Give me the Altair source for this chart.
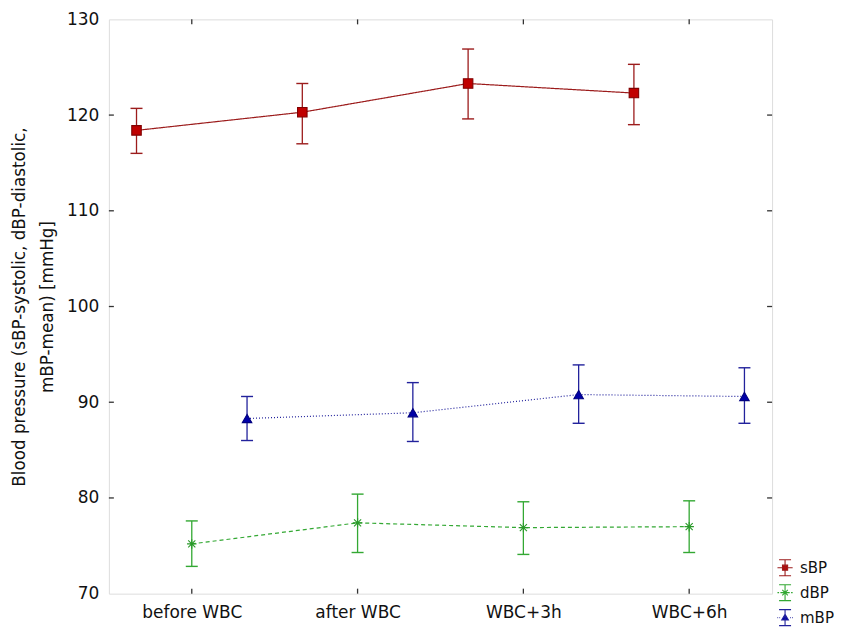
import altair as alt
import pandas as pd

# ---- data ----
timepoints = ["before WBC", "after WBC", "WBC+3h", "WBC+6h"]
series = ["sBP", "dBP", "mBP"]

sbp_mean = [118.4, 120.3, 123.3, 122.3]
sbp_low = [116.0, 117.0, 119.6, 119.0]
sbp_high = [120.7, 123.3, 126.9, 125.3]

dbp_mean = [75.2, 77.4, 76.9, 77.0]
dbp_low = [72.85, 74.3, 74.1, 74.3]
dbp_high = [77.6, 80.4, 79.6, 79.7]

mbp_mean = [88.3, 88.9, 90.8, 90.6]
mbp_low = [86.0, 85.9, 87.8, 87.8]
mbp_high = [90.6, 92.05, 93.9, 93.6]

# horizontal position of each series within a category (fraction of category spacing)
series_offset = {"sBP": -1 / 3, "dBP": 0.0, "mBP": 1 / 3}

colors = ["#9c1c1c", "#33a833", "#22229c"]
fills = ["#c00000", "#33a833", "#0000a8"]
strokes = ["#800000", "#2a9a2a", "#000080"]
dashes = [[1, 0], [4, 3], [1, 2]]
marker_shapes = [
    "square",
    "M-1,0H1M0,-1V1M-0.75,-0.75L0.75,0.75M-0.75,0.75L0.75,-0.75",
    "triangle-up",
]
legend_glyphs = [
    "M-0.75,-1H0.75M0,-1V1M-0.75,1H0.75M-0.95,0H0.95M-0.32,-0.32H0.32V0.32H-0.32Z",
    "M-0.75,-1H0.75M0,-1V1M-0.75,1H0.75M-0.95,0H-0.75M-0.58,0H-0.4M0.4,0H0.58M0.75,0H0.95"
    "M-0.35,-0.35L0.35,0.35M-0.35,0.35L0.35,-0.35M-0.42,0H0.42",
    "M-0.75,-1H0.75M0,-1V1M-0.75,1H0.75M-0.95,0H-0.87M-0.7,0H-0.62M0.62,0H0.7M0.87,0H0.95"
    "M0,-0.42L0.42,0.3H-0.42Z",
]

y_title = ["Blood pressure (sBP-systolic, dBP-diastolic,", "\u00a0" * 13 + "mBP-mean) [mmHg]"]

rows = []
for s, m, lo, hi in [
    ("sBP", sbp_mean, sbp_low, sbp_high),
    ("dBP", dbp_mean, dbp_low, dbp_high),
    ("mBP", mbp_mean, mbp_low, mbp_high),
]:
    for i, t in enumerate(timepoints):
        rows.append({"series": s, "lg": s, "time": t, "idx": i,
                     "xpos": i + series_offset[s], "mean": m[i], "lo": lo[i], "hi": hi[i]})
df = pd.DataFrame(rows)

FONT = "DejaVu Sans"
W, H = 664, 575

xscale = alt.Scale(domain=[-0.5, 3.5], nice=False, zero=False)
yscale = alt.Scale(domain=[70, 130], nice=False, zero=False)
label_expr = "[" + ",".join("'" + t + "'" for t in timepoints) + "][datum.value]"

cscale = alt.Scale(domain=series, range=colors)

x_enc = alt.X("xpos:Q", scale=xscale,
              axis=alt.Axis(values=[0, 1, 2, 3], labelExpr=label_expr, title=None,
                            ticks=False, domain=False, grid=False, labelPadding=11,
                            labelFontSize=17, labelFont=FONT, labelColor="#111"))
y_axis = alt.Axis(values=[70, 80, 90, 100, 110, 120, 130], ticks=False, domain=False, grid=False,
                  labelPadding=10, labelFontSize=17, labelFont=FONT, labelColor="#111",
                  title=y_title,
                  titleFont=FONT, titleFontSize=16.8, titleFontWeight="normal", titleColor="#111",
                  titleLineHeight=28, titlePadding=10)

base = alt.Chart(df)

lines = base.mark_line(strokeWidth=1.2).encode(
    x=x_enc,
    y=alt.Y("mean:Q", scale=yscale, axis=y_axis),
    color=alt.Color("series:N", scale=cscale, legend=None),
    strokeDash=alt.StrokeDash("series:N", scale=alt.Scale(domain=series, range=dashes), legend=None),
    detail="series:N",
)

rules = base.mark_rule(strokeWidth=1.3, opacity=1).encode(
    x=alt.X("xpos:Q", scale=xscale),
    y=alt.Y("lo:Q", scale=yscale),
    y2="hi:Q",
    color=alt.Color("series:N", scale=cscale, legend=None),
)
cap_lo = base.mark_tick(orient="horizontal", size=12, thickness=1.4, opacity=1).encode(
    x=alt.X("xpos:Q", scale=xscale),
    y=alt.Y("lo:Q", scale=yscale),
    color=alt.Color("series:N", scale=cscale, legend=None),
)
cap_hi = base.mark_tick(orient="horizontal", size=12, thickness=1.4, opacity=1).encode(
    x=alt.X("xpos:Q", scale=xscale),
    y=alt.Y("hi:Q", scale=yscale),
    color=alt.Color("series:N", scale=cscale, legend=None),
)

points = base.mark_point(filled=True, size=90, strokeWidth=1.1, opacity=1).encode(
    x=alt.X("xpos:Q", scale=xscale),
    y=alt.Y("mean:Q", scale=yscale),
    fill=alt.Fill("series:N", scale=alt.Scale(domain=series, range=fills), legend=None),
    stroke=alt.Stroke("series:N", scale=alt.Scale(domain=series, range=strokes), legend=None),
    shape=alt.Shape("series:N", scale=alt.Scale(domain=series, range=marker_shapes), legend=None),
)

# inward ticks on all four sides of the frame
ytick_df = pd.DataFrame({"v": [80, 90, 100, 110, 120]})
xtick_df = pd.DataFrame({"i": [0, 1, 2, 3]})
tick_col = "#333"
tl = alt.Chart(ytick_df).mark_tick(orient="horizontal", size=5, thickness=1.3, xOffset=2.5,
                                   color=tick_col, opacity=1).encode(
    y=alt.Y("v:Q", scale=yscale), x=alt.value(0))
tr = alt.Chart(ytick_df).mark_tick(orient="horizontal", size=5, thickness=1.3, xOffset=-2.5,
                                   color=tick_col, opacity=1).encode(
    y=alt.Y("v:Q", scale=yscale), x=alt.value("width"))
tt = alt.Chart(xtick_df).mark_tick(orient="vertical", size=5, thickness=1.3, yOffset=2.5,
                                   color=tick_col, opacity=1).encode(
    x=alt.X("i:Q", scale=xscale), y=alt.value(0))
tb = alt.Chart(xtick_df).mark_tick(orient="vertical", size=5, thickness=1.3, yOffset=-2.5,
                                   color=tick_col, opacity=1).encode(
    x=alt.X("i:Q", scale=xscale), y=alt.value("height"))

main = alt.layer(tl, tr, tt, tb, lines, rules, cap_lo, cap_hi, points)

leg_props = dict(orient="none", legendX=668, legendY=540, title=None, padding=0,
                 symbolSize=256, symbolStrokeWidth=1.1, labelFont=FONT, labelFontSize=15,
                 labelColor="#111", labelOffset=6, rowPadding=3, symbolOpacity=1)
legend_layer = alt.Chart(df).transform_filter("false").mark_point(filled=False, opacity=1).encode(
    x=alt.X("xpos:Q", scale=xscale),
    y=alt.Y("mean:Q", scale=yscale),
    shape=alt.Shape("lg:N", scale=alt.Scale(domain=series, range=legend_glyphs),
                    legend=alt.Legend(**leg_props)),
    stroke=alt.Stroke("lg:N", scale=alt.Scale(domain=series, range=colors),
                      legend=alt.Legend(**leg_props)),
    fill=alt.Fill("lg:N", scale=alt.Scale(domain=series, range=fills),
                  legend=alt.Legend(**leg_props)),
)

chart = alt.layer(main, legend_layer).resolve_scale(
    shape="independent", stroke="independent", fill="independent"
).properties(
    width=W, height=H, padding={"left": 3, "top": 2, "right": 0, "bottom": 0}
).configure_view(stroke="#3a3a3a", strokeWidth=1.4).configure(background="white")

chart.save("out.html", embed_options={"renderer": "svg", "actions": False})
